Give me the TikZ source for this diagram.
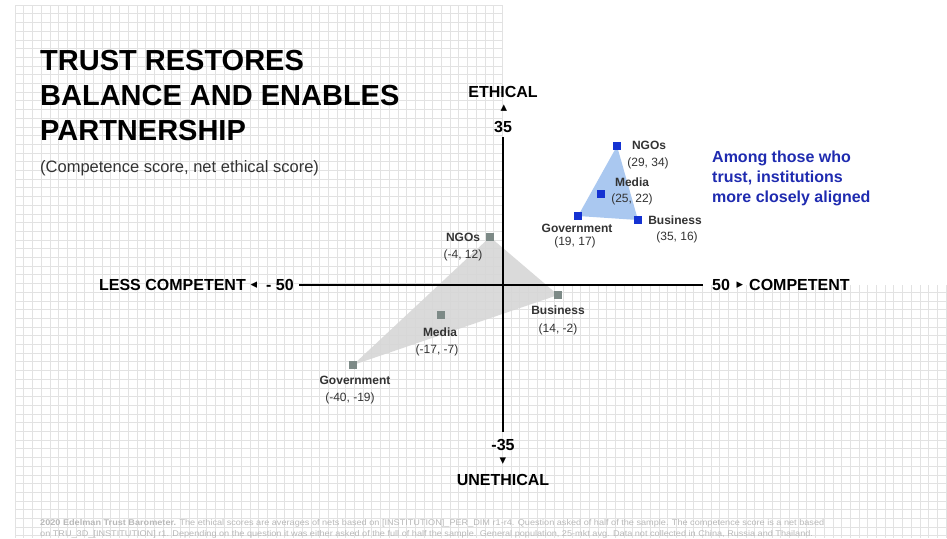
\documentclass[tikz,border=0pt]{standalone}
\usepackage{fontspec}
\setmainfont{Liberation Sans}
\newfontfamily\symfont{DejaVu Sans}
\usepackage{tikz}
\usepackage{xcolor}
\definecolor{gridgrey}{HTML}{E2E2E2}
\definecolor{greypt}{HTML}{7D8A87}
\definecolor{greytri}{HTML}{D6D6D6}
\definecolor{bluept}{HTML}{1432D2}
\definecolor{bluetri}{HTML}{AAC8F0}
\definecolor{notablue}{HTML}{1F2BB0}
\definecolor{labelgrey}{HTML}{333333}
\definecolor{footgrey}{HTML}{B8B8B8}

\begin{document}
\begin{tikzpicture}[x=1pt, y=-1pt,
  gridline/.style={draw=gridgrey, line width=0.6pt},
  axisline/.style={line width=2.6pt, black},
  gsq/.style={fill=greypt, minimum size=8pt, inner sep=0pt},
  bsq/.style={fill=bluept, minimum size=8pt, inner sep=0pt},
  ptname/.style={font=\fontsize{12}{14}\selectfont\bfseries, text=labelgrey, inner sep=0pt},
  ptval/.style={font=\fontsize{12}{14}\selectfont, text=labelgrey, inner sep=0pt},
  axlabel/.style={font=\fontsize{16}{19}\selectfont\bfseries, inner sep=0pt},
  tipmark/.style={font=\symfont\fontsize{13}{14}\selectfont, inner sep=0pt}]
\useasboundingbox (0,0) rectangle (947,538);

% background grid, white top right quadrant
\foreach \gx in {15,23.7,...,947} {\draw[gridline] (\gx,5) -- (\gx,538);}
\foreach \gy in {5,13.7,...,538} {\draw[gridline] (15,\gy) -- (947,\gy);}
\fill[white] (503,0) rectangle (947,285);

% data points
\coordinate (gNGO) at (490,237);
\coordinate (gBus) at (558,295);
\coordinate (gMed) at (441,315);
\coordinate (gGov) at (353,365);
\coordinate (bNGO) at (617,146);
\coordinate (bMed) at (601,194);
\coordinate (bGov) at (578,216);
\coordinate (bBus) at (638,220);

\fill[greytri, opacity=0.9] (gGov) -- (gNGO) -- (gBus) -- cycle;
\fill[bluetri] (bGov) -- (bNGO) -- (bBus) -- cycle;

% axes
\coordinate (xl) at (299,285);
\coordinate (xr) at (703,285);
\coordinate (yt) at (503,137);
\coordinate (yb) at (503,432);
\draw[axisline] (xl) -- (xr);
\draw[axisline] (yt) -- (yb);

\node[axlabel] (ethical) at (503,92) {ETHICAL};
\node[tipmark] (uptip) at (504,108) {▴};
\node[axlabel] (top35) at (503,127) {35};
\node[axlabel] (bot35) at (503,445) {-35};
\node[tipmark] (downtip) at (503,461) {▾};
\node[axlabel] (unethical) at (503,480) {UNETHICAL};
\node[axlabel, anchor=east] (lesscomp) at (246,285) {LESS COMPETENT};
\node[tipmark] (lefttip) at (254,285) {◂};
\node[axlabel, anchor=west] (left50) at (266,285) {- 50};
\node[axlabel, anchor=west] (right50) at (712,285) {50};
\node[tipmark] (righttip) at (740,285) {▸};
\node[axlabel, anchor=west] (competent) at (749,285) {COMPETENT};

% squares
\node[gsq] (gNGOsq) at (gNGO) {};
\node[gsq] (gBussq) at (gBus) {};
\node[gsq] (gMedsq) at (gMed) {};
\node[gsq] (gGovsq) at (gGov) {};
\node[bsq] (bNGOsq) at (bNGO) {};
\node[bsq] (bMedsq) at (bMed) {};
\node[bsq] (bGovsq) at (bGov) {};
\node[bsq] (bBussq) at (bBus) {};

% point labels
\node[ptname] (gNGOname) at (463,237) {NGOs};
\node[ptval] (gNGOval) at (463,255) {(-4, 12)};
\node[ptname] (gBusname) at (558,310) {Business};
\node[ptval] (gBusval) at (558,329) {(14, -2)};
\node[ptname] (gMedname) at (440,332) {Media};
\node[ptval] (gMedval) at (437,350) {(-17, -7)};
\node[ptname] (gGovname) at (355,380) {Government};
\node[ptval] (gGovval) at (350,398) {(-40, -19)};

\node[ptname] (bNGOname) at (649,145) {NGOs};
\node[ptval] (bNGOval) at (648,163) {(29, 34)};
\node[ptname] (bMedname) at (632,182) {Media};
\node[ptval] (bMedval) at (632,199) {(25, 22)};
\node[ptname] (bGovname) at (577,228) {Government};
\node[ptval] (bGovval) at (575,242) {(19, 17)};
\node[ptname] (bBusname) at (675,220) {Business};
\node[ptval] (bBusval) at (677,237) {(35, 16)};

% titles
\node[anchor=north west, align=left, inner sep=0pt,
  font=\fontsize{29}{35}\selectfont\bfseries] (title) at (40,50)
  {TRUST RESTORES\\BALANCE AND ENABLES\\PARTNERSHIP};
\node[anchor=west, inner sep=0pt, text=labelgrey,
  font=\fontsize{16.5}{20}\selectfont] (subtitle) at (40,168)
  {(Competence score, net ethical score)};
\node[anchor=north west, align=left, inner sep=0pt, text=notablue,
  font=\fontsize{16}{20}\selectfont\bfseries] (note) at (712,151)
  {Among those who\\trust, institutions\\more closely aligned};

% source note
\node[anchor=west, inner sep=0pt, text=footgrey,
  font=\fontsize{8.3}{9}\selectfont] (foot1) at (40,523)
  {\scalebox{1.1}[1]{\textbf{2020 Edelman Trust Barometer.} The ethical scores are averages of nets based on [INSTITUTION]\_PER\_DIM r1-r4. Question asked of half of the sample. The competence score is a net based}};
\node[anchor=west, inner sep=0pt, text=footgrey,
  font=\fontsize{8.3}{9}\selectfont] (foot2) at (40,534)
  {\scalebox{1.1}[1]{on TRU\_3D\_[INSTITUTION] r1. Depending on the question it was either asked of the full of half the sample. General population, 25-mkt avg. Data not collected in China, Russia and Thailand.}};
\end{tikzpicture}
\end{document}
